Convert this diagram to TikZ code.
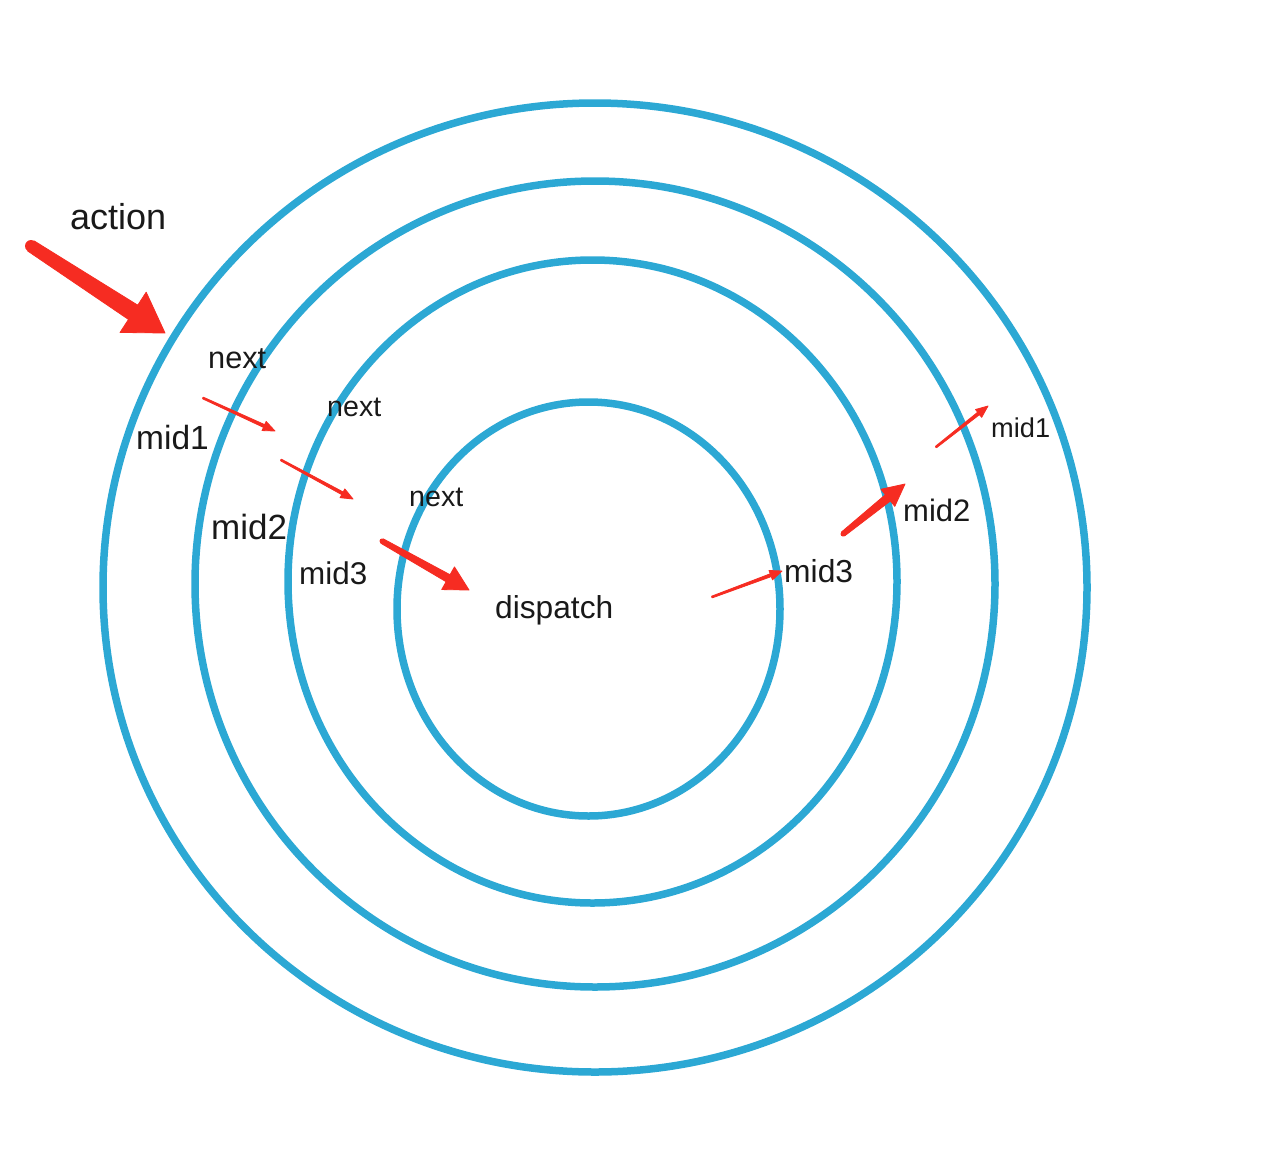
\documentclass[tikz,border=0pt]{standalone}
\usepackage{fontspec}
\setmainfont{Liberation Sans}
\usetikzlibrary{calc}
\definecolor{ringblue}{RGB}{44,168,212}
\definecolor{arrred}{RGB}{246,44,34}
\newcommand{\taparrow}[6]{% tail, tip, half tail width, half shaft width, half head width, head length
  \coordinate (tpB) at ($(#2)!#6!(#1)$);
  \fill[arrred,draw=arrred,line width=0.8pt,line join=round]
    ($(#1)!#3!90:(#2)$) --
    ($(tpB)!#4!90:(#2)$) --
    ($(tpB)!#5!90:(#2)$) --
    (#2) --
    ($(tpB)!#5!-90:(#2)$) --
    ($(tpB)!#4!-90:(#2)$) --
    ($(#1)!#3!-90:(#2)$) -- cycle;
  \fill[arrred] (#1) circle [radius=#3];}
\begin{document}
\begin{tikzpicture}[x=1pt,y=-1pt,
  ring/.style={draw=ringblue,line width=7.5pt},
  lbl/.style={inner sep=0pt,anchor=base west,text=black!90}]
\useasboundingbox (0,0) rectangle (1268,1162);
% rings
\draw[ring] (595,587.5) ellipse [x radius=492,y radius=484.5];
\draw[ring] (595,584) ellipse [x radius=400,y radius=403];
\draw[ring] (592.5,581.5) ellipse [x radius=304.5,y radius=321.5];
\draw[ring] (588.5,609) ellipse [x radius=191.5,y radius=207];
% labels
\node[lbl,font=\fontsize{36}{40}\selectfont] (action) at (70,229) {action};
\node[lbl,font=\fontsize{30.7}{34}\selectfont] (next1) at (208,368) {next};
\node[lbl,font=\fontsize{33.5}{37}\selectfont] (mid1l) at (136,449) {mid1};
\node[lbl,font=\fontsize{28.6}{32}\selectfont] (next2) at (327,416) {next};
\node[lbl,font=\fontsize{35}{39}\selectfont] (mid2l) at (211,539) {mid2};
\node[lbl,font=\fontsize{28.6}{32}\selectfont] (next3) at (409,506) {next};
\node[lbl,font=\fontsize{31.4}{35}\selectfont] (mid3l) at (299,584) {mid3};
\node[lbl,font=\fontsize{31.7}{35}\selectfont] (dispatch) at (495,618) {dispatch};
\node[lbl,font=\fontsize{31.8}{35}\selectfont] (mid3r) at (784,582) {mid3};
\node[lbl,font=\fontsize{31}{35}\selectfont] (mid2r) at (903,521) {mid2};
\node[lbl,font=\fontsize{27.2}{31}\selectfont] (mid1r) at (991,437) {mid1};
% arrow end points
\coordinate (aT) at (31,246);  \coordinate (aH) at (165,333);
\coordinate (n1T) at (203,398); \coordinate (n1H) at (275,431);
\coordinate (n2T) at (281,460); \coordinate (n2H) at (353,499);
\coordinate (n3T) at (382,541); \coordinate (n3H) at (469,590);
\coordinate (r3T) at (712,597); \coordinate (r3H) at (782,571);
\coordinate (r2T) at (843,534); \coordinate (r2H) at (905,484);
\coordinate (r1T) at (936,447); \coordinate (r1H) at (988,406);
% arrows
\taparrow{aT}{aH}{6pt}{8.5pt}{24pt}{38pt}
\taparrow{n1T}{n1H}{0.9pt}{1.5pt}{5pt}{12pt}
\taparrow{n2T}{n2H}{0.9pt}{1.5pt}{5pt}{12pt}
\taparrow{n3T}{n3H}{2.5pt}{4pt}{13pt}{24pt}
\taparrow{r3T}{r3H}{0.9pt}{1.5pt}{5pt}{12pt}
\taparrow{r2T}{r2H}{2.5pt}{4pt}{11pt}{22pt}
\taparrow{r1T}{r1H}{0.9pt}{1.5pt}{5pt}{12pt}
\end{tikzpicture}
\end{document}
